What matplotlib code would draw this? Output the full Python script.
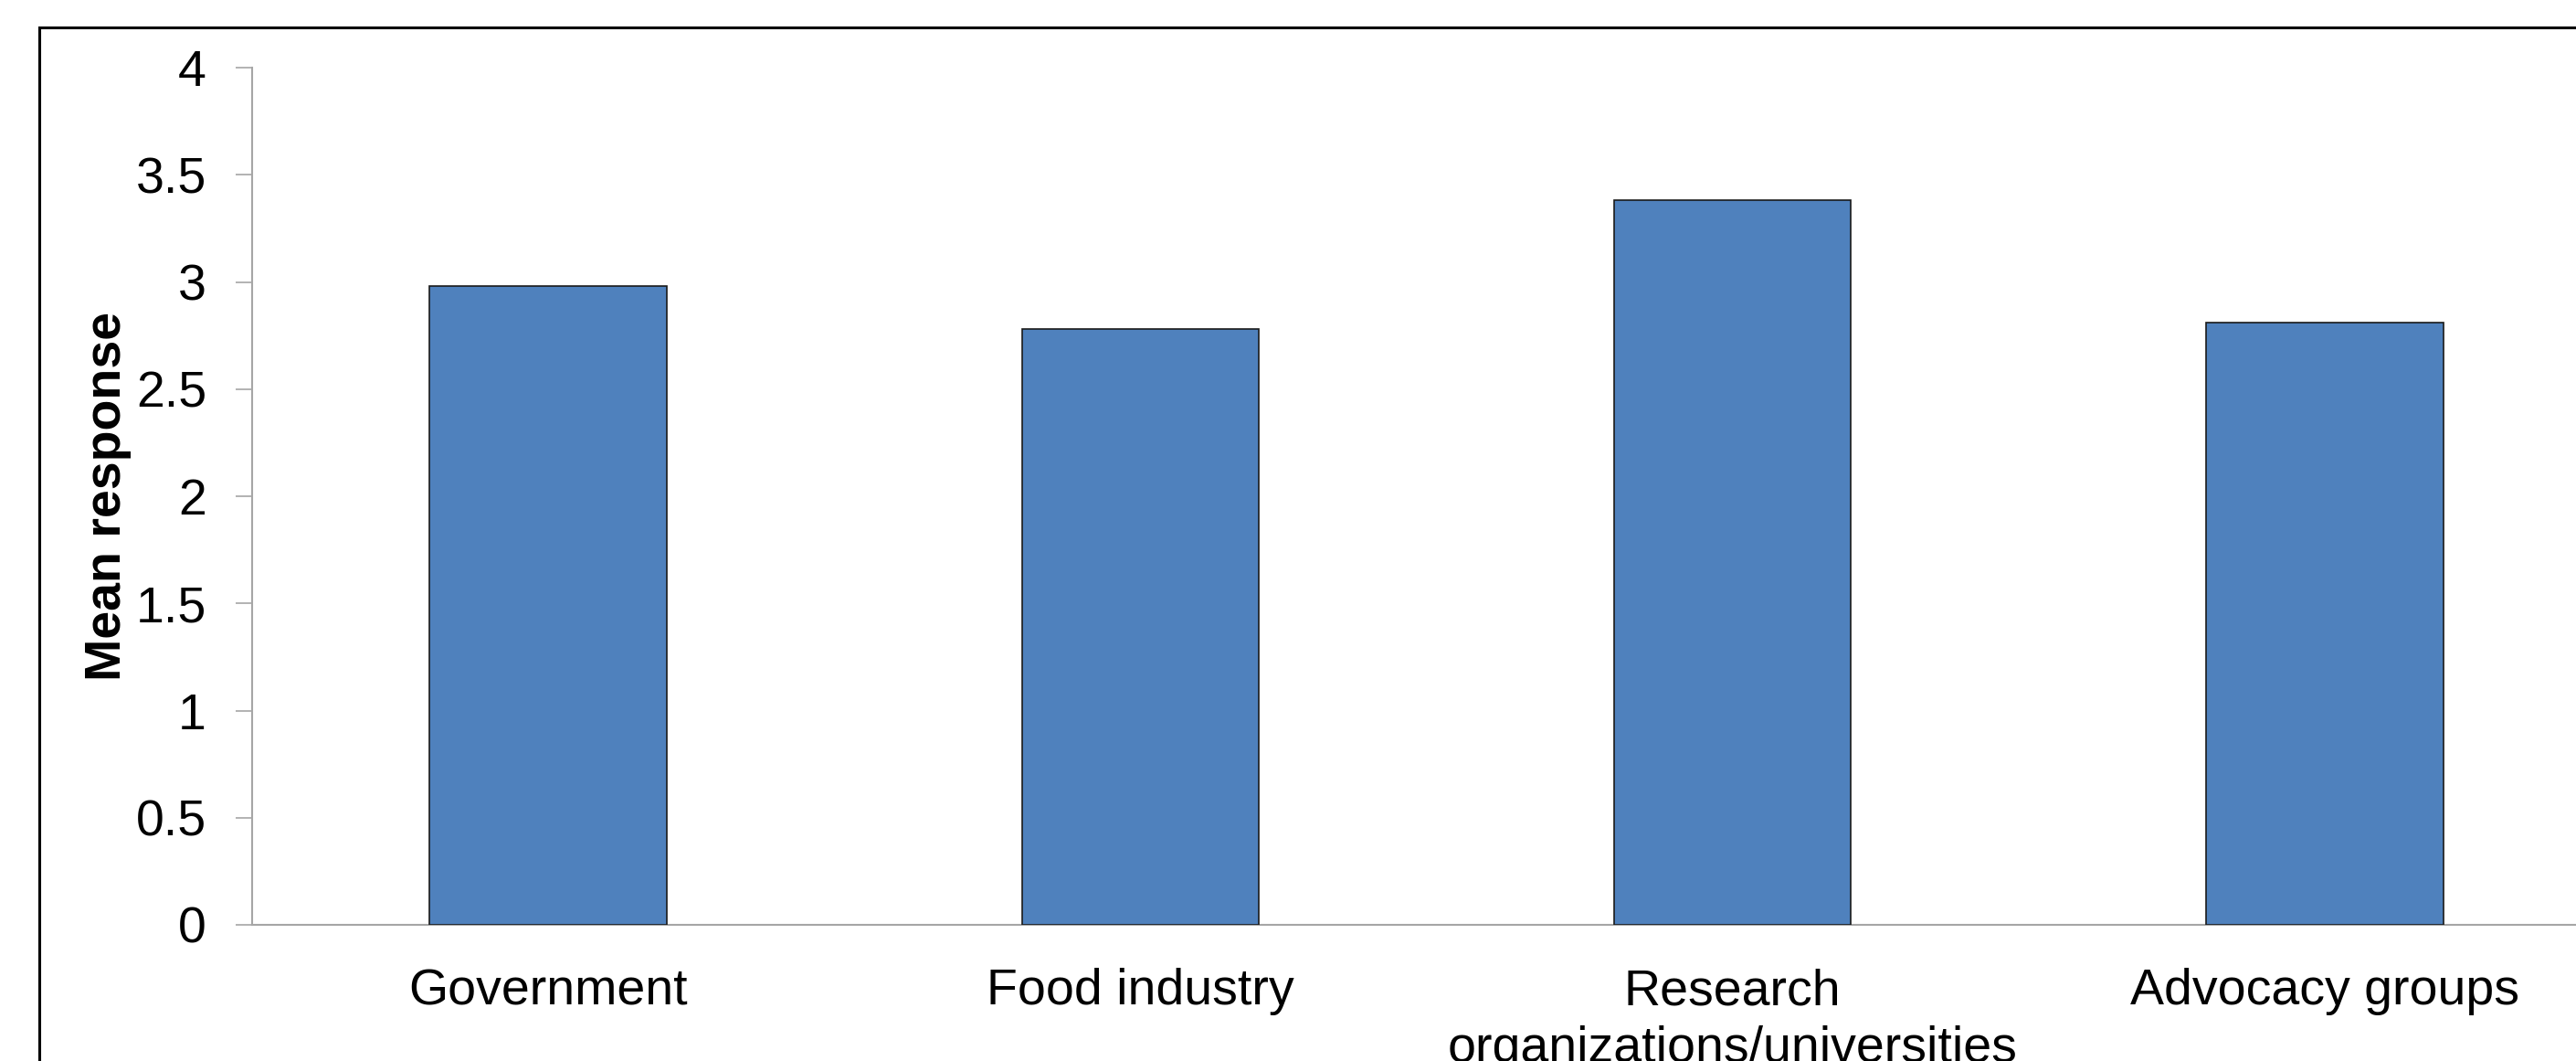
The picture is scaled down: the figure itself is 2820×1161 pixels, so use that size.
import matplotlib.pyplot as plt
from matplotlib.patches import Rectangle

# Mean response per stakeholder group
categories = ["Government", "Food industry", "Research\norganizations/universities", "Advocacy groups"]
mean_response = [2.98, 2.78, 3.38, 2.81]
y_ticks = [0, 0.5, 1, 1.5, 2, 2.5, 3, 3.5, 4]
y_tick_labels = ["0", "0.5", "1", "1.5", "2", "2.5", "3", "3.5", "4"]

plt.rcParams['font.family'] = ['Liberation Sans', 'DejaVu Sans']

W, H = 2820, 1161
fig = plt.figure(figsize=(W / 100, H / 100), dpi=100)

# outer chart frame, cut off at the right and bottom like the original
frame = Rectangle((43 / W, -0.1), 1.2, 1 - 30 / H + 0.1, transform=fig.transFigure,
                  fill=False, edgecolor='black', linewidth=2.2, clip_on=False)
fig.patches.append(frame)

ax = fig.add_axes([276 / W, 149 / H, 2593 / W, 938 / H])
ax.patch.set_alpha(0)

x = range(len(categories))
ax.bar(x, mean_response, width=0.4, color='#4F81BD', edgecolor='#1a1a1a', linewidth=1.2, zorder=3)

ax.set_xlim(-0.5, 3.5)
ax.set_ylim(0, 4)
ax.set_yticks(y_ticks)
ax.set_yticklabels(y_tick_labels)
ax.set_xticks(list(x))
ax.set_xticklabels(categories, linespacing=1.28)

for side in ['top', 'right']:
    ax.spines[side].set_visible(False)
for side in ['left', 'bottom']:
    ax.spines[side].set_color('#a6a6a6')
    ax.spines[side].set_linewidth(1.5)

ax.tick_params(axis='y', direction='out', length=13, width=1.2, color='#a6a6a6',
               labelsize=40, pad=23)
ax.tick_params(axis='x', length=0, labelsize=40, pad=34)

ax.set_ylabel("Mean response", fontsize=40, fontweight='bold')
ax.yaxis.set_label_coords(-0.051, 0.5)

fig.savefig("out.png", dpi=100)
